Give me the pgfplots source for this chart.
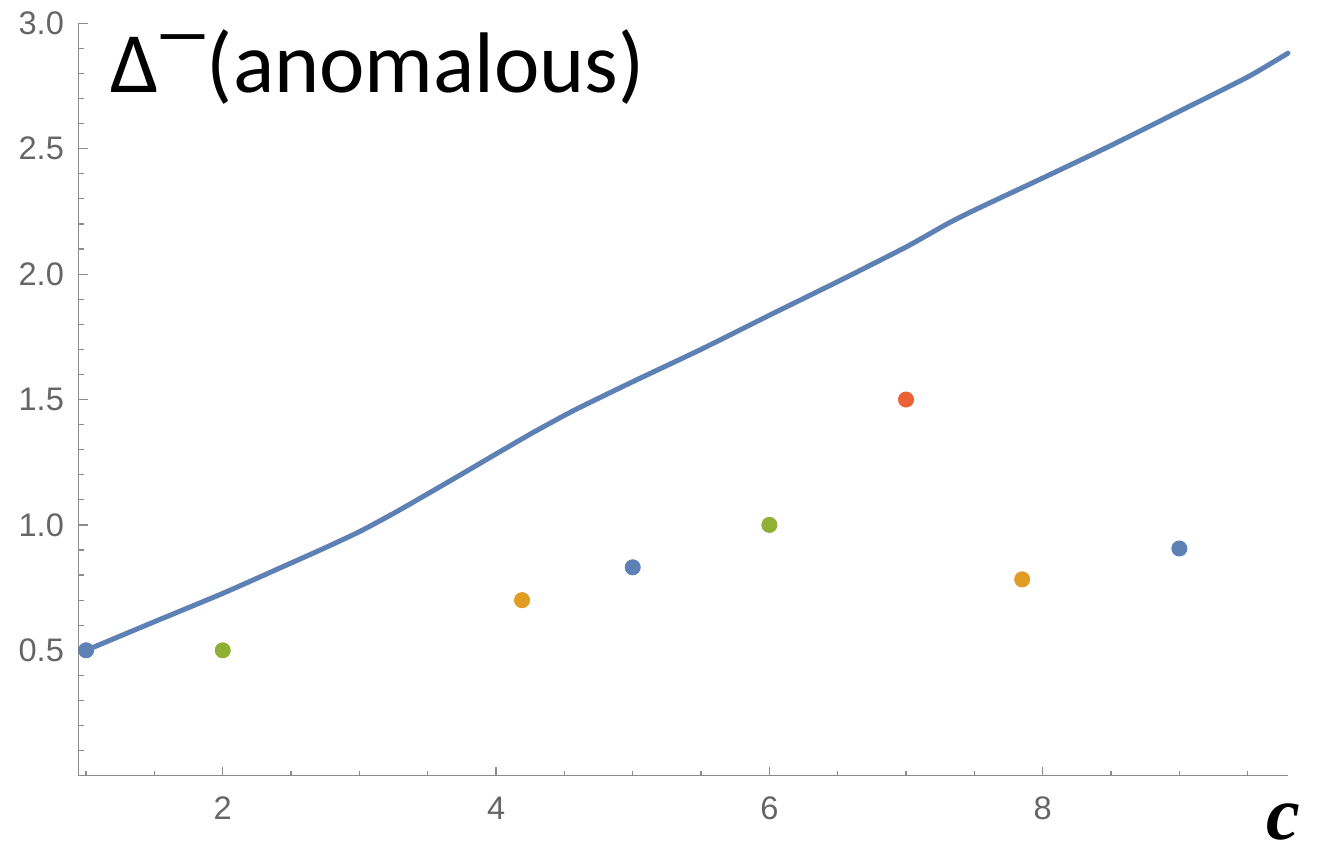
\documentclass[border=0pt]{standalone}
\usepackage{pgfplots}
\pgfplotsset{compat=1.18}
\usepackage{fontspec}
\setmainfont{Liberation Sans}
\newfontfamily\titlefont{Carlito}
\newfontfamily\cfont{Liberation Serif}
\definecolor{mblue}{HTML}{5E81B5}
\definecolor{morange}{HTML}{E19C24}
\definecolor{mgreen}{HTML}{8FB032}
\definecolor{mred}{HTML}{EB6235}
\definecolor{axgray}{HTML}{8C8C8C}
\definecolor{lblgray}{HTML}{666666}
\begin{document}
\begin{tikzpicture}
\path[use as bounding box] (0,0) rectangle (658.5pt,-426.5pt);
\begin{axis}[
  at={(39.15pt,-387.85pt)}, anchor=south west,
  scale only axis, width=604.85pt, height=376.2pt,
  xmin=0.943, xmax=9.795, ymin=0, ymax=3.0,
  axis lines=left, axis line style={-, axgray, line width=0.6pt},
  clip=false,
  xtick={2,4,6,8},
  minor xtick={1,1.5,2.5,3,3.5,4.5,5,5.5,6.5,7,7.5,8.5,9,9.5},
  ytick={0.5,1.0,1.5,2.0,2.5,3.0},
  minor ytick={0.1,0.2,0.3,0.4,0.6,0.7,0.8,0.9,1.1,1.2,1.3,1.4,1.6,1.7,1.8,1.9,2.1,2.2,2.3,2.4,2.6,2.7,2.8,2.9},
  tick align=inside,
  major tick length=4.6pt, minor tick length=2.6pt,
  tick style={axgray, line width=0.6pt},
  /pgf/number format/assume math mode=true,
  yticklabel={\pgfmathprintnumber[fixed,fixed zerofill,precision=1]{\tick}},
  ticklabel style={font=\fontsize{16.3}{18}\selectfont, text=lblgray},
  yticklabel style={inner sep=0pt, anchor=east, xshift=-7pt},
  xticklabel style={inner sep=0pt, anchor=north, yshift=-10.5pt},
]
\addplot[mblue, line width=2.5pt, line join=round, line cap=round, smooth, tension=0.35] coordinates {
(1.0,0.500) (1.5,0.614) (2.0,0.727) (2.5,0.848) (2.75,0.909) (3.0,0.973) (3.25,1.046) (3.5,1.124)
(3.75,1.203) (4.0,1.283) (4.25,1.362) (4.45,1.422) (4.6,1.465) (5.0,1.571) (5.5,1.700)
(6.0,1.836) (6.5,1.970) (7.0,2.108) (7.3,2.200) (7.5,2.255) (8.0,2.383)
(8.5,2.513) (9.0,2.649) (9.5,2.786) (9.795,2.881)
};
\addplot[only marks, mark=*, mark size=3.8pt, mblue, mark options={draw=none, fill=mblue}] coordinates {(1,0.5) (5,0.831) (9,0.906)};
\addplot[only marks, mark=*, mark size=3.8pt, mgreen, mark options={draw=none, fill=mgreen}] coordinates {(2,0.5) (6,1.0)};
\addplot[only marks, mark=*, mark size=3.8pt, morange, mark options={draw=none, fill=morange}] coordinates {(4.19,0.7) (7.85,0.783)};
\addplot[only marks, mark=*, mark size=3.8pt, mred, mark options={draw=none, fill=mred}] coordinates {(7,1.5)};
\end{axis}
\node[anchor=base west, inner sep=0pt] at (55pt,-46pt) {\titlefont\fontsize{43}{47}\selectfont Δ\hspace{3.5pt}\raisebox{17pt}{\makebox[17.5pt][c]{\scalebox{1.75}[1.1]{\fontsize{35}{35}\selectfont –}}}\hspace{3pt}(anomalous)};
\node[anchor=center, inner sep=0pt] at (641.5pt,-411pt) {\cfont\fontsize{38}{40}\selectfont\bfseries\itshape c};
\end{tikzpicture}
\end{document}
